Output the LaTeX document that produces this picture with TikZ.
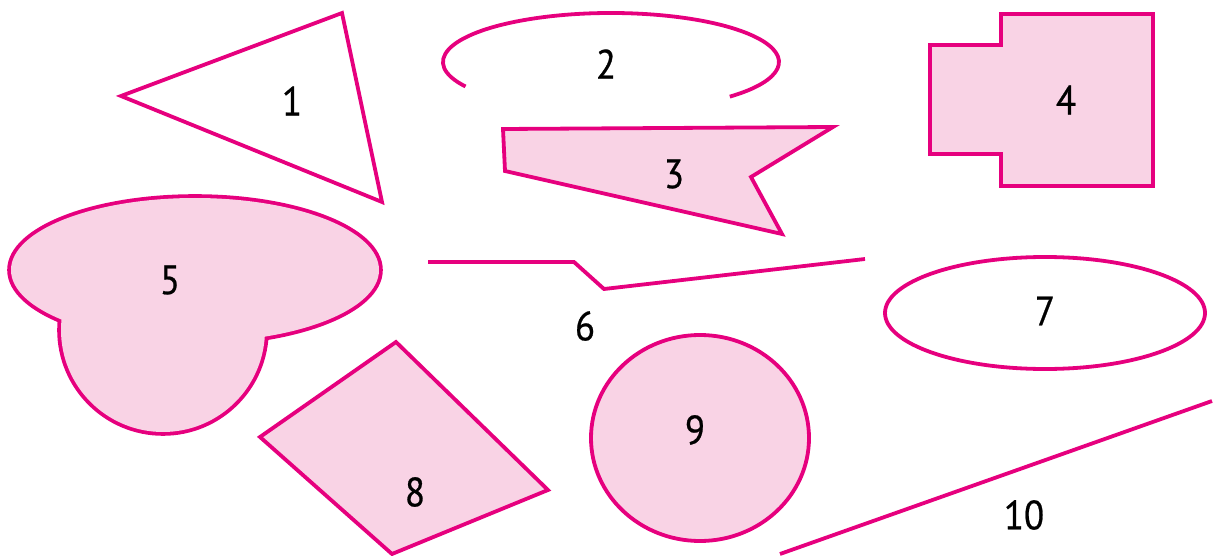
\documentclass[tikz,border=0pt]{standalone}
\usepackage{fontspec}
\setmainfont[FakeStretch=0.9,FakeBold=0.6]{PT Sans}
\definecolor{edge}{HTML}{E6007E}
\definecolor{pinkfill}{HTML}{F9D3E5}
\begin{document}
\begin{tikzpicture}[x=1pt,y=-1pt,
  shape line/.style={draw=edge,line width=3.8pt,line join=miter},
  filled/.style={shape line,fill=pinkfill},
  lbl/.style={font=\fontsize{41}{42}\selectfont,text=black,inner sep=0pt}]
\useasboundingbox (0,0) rectangle (1221,556);
% 1 triangle
\draw[shape line] (121,96) -- (342,13) -- (382,202) -- cycle;
\node[lbl] (l1) at (292,101) {1};
% 2 open ellipse
\draw[shape line] (465.5,86.5) arc[start angle=150,end angle=405,x radius=168,y radius=49];
\node[lbl] (l2) at (606,64) {2};
% 3
\draw[filled] (503,129) -- (833,127) -- (751,177) -- (782,234) -- (505,171) -- cycle;
\node[lbl] (l3) at (674,174) {3};
% 4
\draw[filled] (1001,14) -- (1153,14) -- (1153,186) -- (1001,186) -- (1001,154) -- (930,154) -- (930,45) -- (1001,45) -- cycle;
\node[lbl] (l4) at (1066,100) {4};
% 5 union of ellipse and circle
\draw[draw=edge,line width=7.6pt] (195,270) ellipse[x radius=184,y radius=72];
\draw[draw=edge,line width=7.6pt] (163,330) circle[radius=102];
\fill[pinkfill] (195,270) ellipse[x radius=184,y radius=72];
\fill[pinkfill] (163,330) circle[radius=102];
\node[lbl] (l5) at (170,280) {5};
% 6
\draw[shape line] (428,262) -- (574,262) -- (604,289) -- (865,259);
\node[lbl] (l6) at (585,326) {6};
% 7
\draw[shape line] (1045,313) ellipse[x radius=160,y radius=56];
\node[lbl] (l7) at (1045,311) {7};
% 8
\draw[filled] (260,437) -- (396,342) -- (548,490) -- (392,554) -- cycle;
\node[lbl] (l8) at (415,492) {8};
% 9
\draw[filled] (700,438) ellipse[x radius=109,y radius=103];
\node[lbl] (l9) at (695,430) {9};
% 10
\draw[shape line] (780,554) -- (1212,401);
\node[lbl] (l10) at (1024,515) {10};
\end{tikzpicture}
\end{document}
